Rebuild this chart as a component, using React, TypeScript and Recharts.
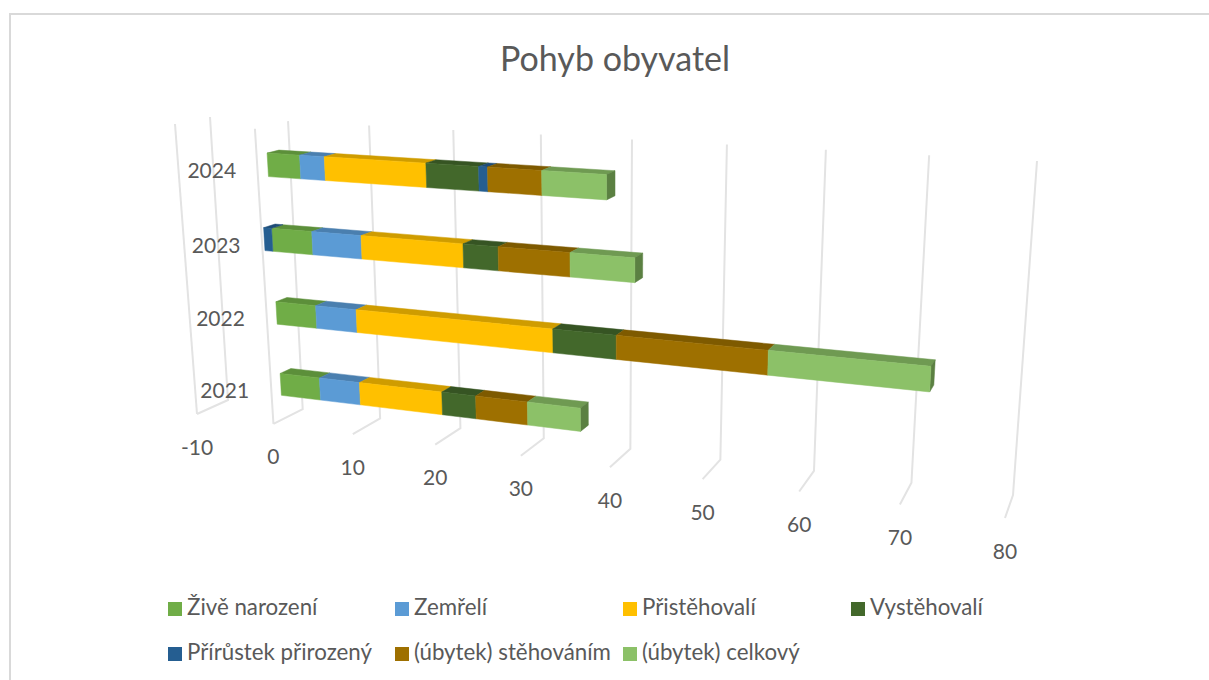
import { Bar, BarChart, CartesianGrid, Legend, XAxis, YAxis } from "recharts";

const years = ["2021", "2022", "2023", "2024"];
const zivi = [5, 5, 5, 4];
const zemreli = [5, 5, 6, 3];
const pristehovali = [10, 23, 12, 12];
const vystehovali = [4, 7, 4, 6];
const prirustek = [0, 0, -1, 1];
const stehovanim = [6, 16, 8, 6];
const celkovy = [6, 16, 7, 7];
const xTicks = [-10, 0, 10, 20, 30, 40, 50, 60, 70, 80];

const table = years.map((year, i) => ({
  year,
  zivi: zivi[i],
  zemreli: zemreli[i],
  pristehovali: pristehovali[i],
  vystehovali: vystehovali[i],
  prirustek: prirustek[i],
  stehovanim: stehovanim[i],
  celkovy: celkovy[i],
}));

const series = [
  { key: "zivi", name: "Živě narození", color: "#70AD47", top: "#5C8F3A" },
  { key: "zemreli", name: "Zemřelí", color: "#5B9BD5", top: "#4A7FAF" },
  { key: "pristehovali", name: "Přistěhovalí", color: "#FFC000", top: "#CF9C00" },
  { key: "vystehovali", name: "Vystěhovalí", color: "#43682B", top: "#365423" },
  { key: "prirustek", name: "Přírůstek přirozený", color: "#255E91", top: "#1E4C76" },
  { key: "stehovanim", name: "(úbytek) stěhováním", color: "#9E7000", top: "#7E5A00" },
  { key: "celkovy", name: "(úbytek) celkový", color: "#8CC168", top: "#6F9A52", side: "#5B8042" },
];

// flat plot rectangle that recharts lays out, before it gets projected
const W = 1209;
const H = 680;
const AXIS_SIZE = 1;
const plot = { left: 100, top: 100, width: 900, height: 400 };
const toValue = (px: number) => ((px - plot.left) / plot.width) * 90 - 10;
const toHeight = (py: number) => 1 - (py - plot.top) / plot.height;

type Pt = [number, number];

// unit square -> quad (top-left, top-right, bottom-right, bottom-left)
function quadMap(q: Pt[]) {
  const [[x0, y0], [x1, y1], [x2, y2], [x3, y3]] = q;
  const dx1 = x1 - x2;
  const dx2 = x3 - x2;
  const sx = x0 - x1 + x2 - x3;
  const dy1 = y1 - y2;
  const dy2 = y3 - y2;
  const sy = y0 - y1 + y2 - y3;
  const den = dx1 * dy2 - dx2 * dy1;
  const g = (sx * dy2 - dx2 * sy) / den;
  const h = (dx1 * sy - sx * dy1) / den;
  const a = x1 - x0 + g * x1;
  const b = x3 - x0 + h * x3;
  const d = y1 - y0 + g * y1;
  const e = y3 - y0 + h * y3;
  return (u: number, v: number): Pt => {
    const w = g * u + h * v + 1;
    return [(a * u + b * v + x0) / w, (d * u + e * v + y0) / w];
  };
}

const backWall = quadMap([[210, 117], [1037, 161], [1013, 495], [228, 400]]);
const frontWall = quadMap([[175, 124], [1027, 174], [1005, 518], [197, 414]]);

// value, height 0..1 (floor..top), depth 0..1 (back..front)
function project(value: number, height: number, depth: number): Pt {
  const u = (value + 10) / 90;
  const b = backWall(u, 1 - height);
  const f = frontWall(u, 1 - height);
  return [b[0] + (f[0] - b[0]) * depth, b[1] + (f[1] - b[1]) * depth];
}

const BAR_FRONT = 0.68;
const BAR_BACK = 0.32;

const pts = (list: Pt[]) => list.map((p) => p.join(",")).join(" ");

function Segment(props: any) {
  const { x, y, width, height, color, top, side } = props;
  if (!width) return null;
  const v0 = toValue(Math.min(x, x + width));
  const v1 = toValue(Math.max(x, x + width));
  const h1 = toHeight(y);
  const h0 = toHeight(y + height);
  const front = [project(v0, h1, BAR_FRONT), project(v1, h1, BAR_FRONT), project(v1, h0, BAR_FRONT), project(v0, h0, BAR_FRONT)];
  const roof = [project(v0, h1, BAR_FRONT), project(v1, h1, BAR_FRONT), project(v1, h1, BAR_BACK), project(v0, h1, BAR_BACK)];
  const end = [project(v1, h1, BAR_FRONT), project(v1, h0, BAR_FRONT), project(v1, h0, BAR_BACK), project(v1, h1, BAR_BACK)];
  return (
    <g>
      <polygon points={pts(roof)} fill={top} stroke={top} strokeWidth={0.5} />
      {side && <polygon points={pts(end)} fill={side} stroke={side} strokeWidth={0.5} />}
      <polygon points={pts(front)} fill={color} stroke={color} strokeWidth={0.5} />
    </g>
  );
}

function GridLine(props: any) {
  const value = Math.round(toValue(props.x1));
  const backTop = project(value, 1, 0);
  const backBottom = project(value, 0, 0);
  const frontBottom = project(value, 0, 1);
  const frontTop = project(value, 1, 1);
  const stroke = "#E3E3E3";
  return (
    <g key={value} fill="none" stroke={stroke} strokeWidth={2}>
      <polyline points={pts([backTop, backBottom, frontBottom])} />
      {value <= 0 && <line x1={frontTop[0]} y1={frontTop[1]} x2={frontBottom[0]} y2={frontBottom[1]} />}
    </g>
  );
}

const labelStyle = { fontFamily: "Lato", fontSize: 21, fill: "#595959" };

function ValueTick(props: any) {
  const [px, py] = project(props.payload.value, 0, 1);
  return (
    <text x={px} y={py + 32} textAnchor="middle" dominantBaseline="central" style={labelStyle}>
      {props.payload.value}
    </text>
  );
}

function YearTick(props: any) {
  const [px, py] = project(0, toHeight(props.y), BAR_FRONT);
  return (
    <text x={px - 56} y={py + 5} textAnchor="middle" dominantBaseline="central" style={labelStyle}>
      {props.payload.value}
    </text>
  );
}

const legendX = [168, 395, 623, 851];
const legendY = [602, 647];

function LegendBlock({ payload }: any) {
  return (
    <>
      {(payload || []).map((entry: any) => {
        const i = series.findIndex((s) => s.name === entry.value);
        const left = legendX[i % 4];
        const top = legendY[Math.floor(i / 4)];
        return (
          <div key={entry.value} style={{ position: "absolute", left, top, height: 14, whiteSpace: "nowrap" }}>
            <span style={{ position: "absolute", left: 0, top: 0, width: 14, height: 14, background: entry.color }} />
            <span
              style={{
                position: "absolute",
                left: 19,
                top: -9,
                lineHeight: "28px",
                fontFamily: "Lato",
                fontSize: 22.3,
                color: "#595959",
              }}
            >
              {entry.value}
            </span>
          </div>
        );
      })}
    </>
  );
}

export default function App() {
  return (
    <div style={{ position: "absolute", left: 0, top: 0, width: W, height: H, overflow: "hidden", background: "#fff" }}>
      <div
        style={{
          position: "absolute",
          left: 9,
          top: 13,
          width: W,
          height: H,
          borderLeft: "2px solid #D9D9D9",
          borderTop: "2px solid #D9D9D9",
        }}
      />
      <div
        style={{
          position: "absolute",
          left: 0,
          width: 1230,
          top: 37,
          textAlign: "center",
          fontFamily: "Lato",
          fontSize: 34,
          lineHeight: "42px",
          color: "#595959",
        }}
      >
        Pohyb obyvatel
      </div>
      <BarChart
        width={W}
        height={H}
        data={table}
        layout="vertical"
        stackOffset="sign"
        margin={{
          left: plot.left - AXIS_SIZE,
          top: plot.top,
          right: W - plot.left - plot.width,
          bottom: H - plot.top - plot.height - AXIS_SIZE,
        }}
        style={{ position: "absolute", left: 0, top: 0 }}
      >
        <CartesianGrid horizontal={false} vertical={GridLine as any} syncWithTicks />
        <XAxis
          type="number"
          domain={[-10, 80]}
          ticks={xTicks}
          interval={0}
          height={AXIS_SIZE}
          axisLine={false}
          tickLine={false}
          tick={ValueTick as any}
        />
        <YAxis
          type="category"
          dataKey="year"
          reversed
          width={AXIS_SIZE}
          interval={0}
          axisLine={false}
          tickLine={false}
          tick={YearTick as any}
        />
        <Legend
          itemSorter={null}
          content={LegendBlock as any}
          wrapperStyle={{ position: "absolute", left: 0, top: 0, width: 0, height: 0, pointerEvents: "none" }}
        />
        {series.map((s) => (
          <Bar
            key={s.key}
            dataKey={s.key}
            name={s.name}
            stackId="pohyb"
            barSize={31}
            fill={s.color}
            isAnimationActive={false}
            shape={(p: any) => <Segment {...p} color={s.color} top={s.top} side={s.side} />}
          />
        ))}
      </BarChart>
    </div>
  );
}
